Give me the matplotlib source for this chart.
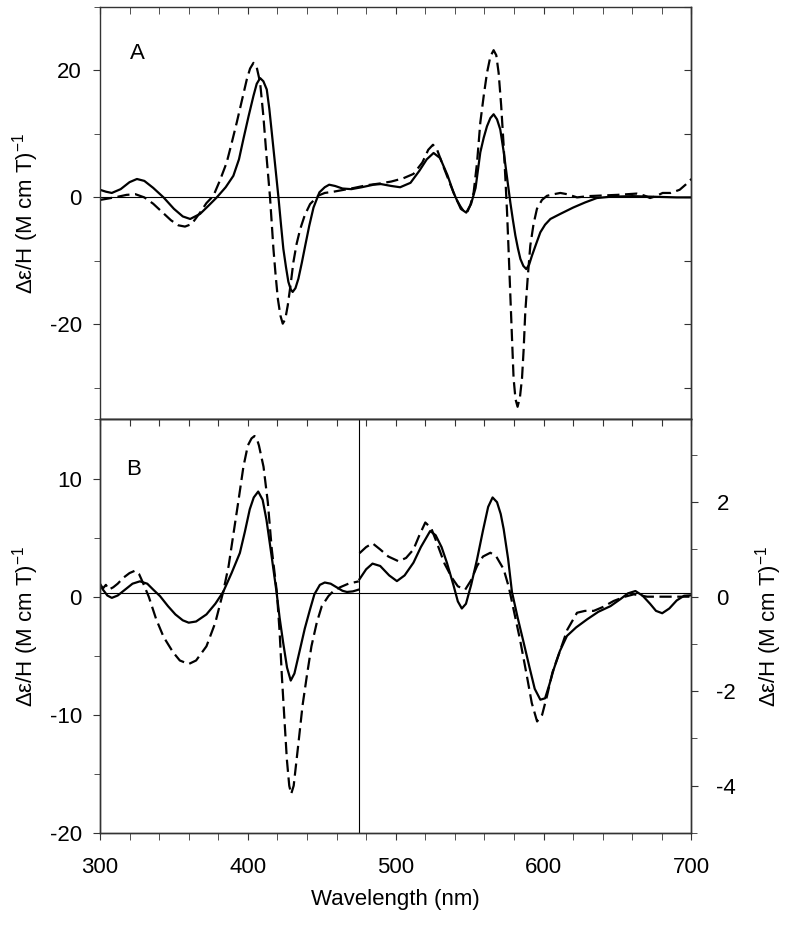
#!/usr/bin/env python3
# -*- coding: utf-8 -*-

import matplotlib
matplotlib.use('Agg')
import matplotlib.pyplot as plt
from matplotlib.ticker import MultipleLocator, NullFormatter

# panel A, solid trace
a_solid_x = [300, 304, 308, 314, 320, 325, 330, 336, 343, 350, 356, 361, 367.7, 373, 379, 385, 390.2,
             394, 397, 400.5, 403.8, 406, 408.3, 410.5, 412.8, 414.5, 416.2, 418.5, 420.7, 422.5, 424,
             425.8, 427.4, 429, 430.3, 432.2, 434.2, 436.5, 438.8, 441.5, 444.4, 448.4, 452, 455, 459,
             464, 470, 477, 485, 490, 497, 503, 510, 516, 521, 525.6, 530, 535, 539, 544, 547.7, 551,
             554, 557.2, 559.5, 561.7, 564, 566.2, 568.5, 570.7, 573, 575.3, 577.5, 579.2, 580.9, 582.6,
             584.3, 586.3, 588.3, 590.2, 592.1, 595, 597.8, 601, 604.6, 611.3, 620, 628, 636, 645, 660,
             675, 690, 700]
a_solid_y = [1.2, 0.9, 0.7, 1.3, 2.4, 2.9, 2.6, 1.5, 0.0, -1.8, -3.0, -3.4, -2.6, -1.4, 0.0, 1.6, 3.4,
             6.0, 9.2, 12.8, 16.0, 17.9, 18.8, 18.3, 17.0, 14.0, 10.2, 5.0, 0.0, -4.5, -8.1, -11.0,
             -13.3, -14.5, -14.9, -14.3, -12.8, -10.3, -7.6, -4.5, -1.6, 0.8, 1.6, 2.0, 1.8, 1.4, 1.3,
             1.6, 2.0, 2.1, 1.8, 1.6, 2.3, 4.2, 6.0, 7.0, 6.2, 3.5, 0.8, -1.8, -2.4, -1.0, 1.5, 7.1,
             9.4, 11.2, 12.5, 13.1, 12.3, 10.7, 7.2, 3.1, -0.8, -3.5, -6.0, -8.0, -9.7, -10.8, -11.3,
             -10.6, -9.2, -7.3, -5.5, -4.3, -3.4, -2.6, -1.6, -0.8, -0.1, 0.1, 0.2, 0.1, 0.0, 0.0]

# panel A, dashed trace
a_dash_x = [300, 305, 312, 318, 324, 330, 336, 342, 348, 353, 357.5, 362, 367.7, 372, 376.7, 381, 385.7,
            389, 392.5, 396, 399.3, 401.5, 403.8, 406, 408.3, 410.5, 412.8, 415, 417.3, 418.8, 420.3,
            422, 423.6, 425.3, 427, 429, 430.8, 433, 435.4, 438.5, 442.1, 447.8, 452, 458, 465, 472,
            480, 489.5, 497, 505, 512, 518, 522, 525.2, 528, 532, 537, 541, 543.7, 546, 548.2, 550.5,
            552.7, 555, 557.2, 559.5, 561.7, 564, 566.2, 568, 569.6, 571.3, 573, 574.2, 575.3, 576.4,
            577.5, 578.6, 579.7, 581, 582.4, 584, 585.4, 586.5, 587.6, 589.3, 591, 593.2, 595.5, 598.9,
            602.3, 606.8, 611.3, 616, 622.6, 630, 640, 650, 663, 668, 672, 676, 680.5, 686, 692, 696,
            700]
a_dash_y = [-0.4, -0.2, 0.1, 0.4, 0.5, 0.0, -1.0, -2.3, -3.6, -4.4, -4.6, -4.2, -2.4, -0.9, 0.25, 2.6,
            5.5, 8.5, 11.8, 15.3, 18.6, 20.3, 21.2, 20.5, 18.1, 12.8, 6.0, 0.0, -8.1, -12.3, -16.0,
            -18.6, -19.9, -19.2, -17.0, -13.6, -10.2, -7.3, -5.0, -2.8, -1.05, 0.3, 0.7, 0.9, 1.2, 1.5,
            1.9, 2.2, 2.5, 3.0, 3.7, 5.5, 7.5, 8.3, 7.5, 5.0, 2.0, -0.3, -1.4, -2.2, -2.4, -1.2, 0.8,
            5.5, 11.8, 16.0, 19.6, 22.2, 23.2, 22.4, 19.6, 14.5, 8.1, 2.8, -2.4, -8.8, -15.4, -22.0,
            -28.5, -31.8, -33.0, -31.5, -28.5, -24.0, -18.1, -12.5, -7.6, -4.2, -1.8, -0.4, 0.25, 0.5,
            0.7, 0.5, 0.0, 0.2, 0.3, 0.4, 0.6, 0.3, -0.1, 0.2, 0.7, 0.7, 1.2, 2.0, 2.9]

# panel B below 475 nm (left axis)
b_solid_x = [300, 302, 305, 308, 312, 317, 322, 327, 332, 336, 340.6, 346, 351, 356, 360, 365, 372, 378,
             383.3, 389, 394.6, 398, 401.3, 404, 407, 410, 412.6, 416, 419.4, 421.5, 423.9, 426.5, 429,
             431.5, 435.2, 438.5, 442, 445, 448.7, 452, 456, 460, 464, 467, 471, 475]
b_solid_y = [1.0, 0.6, 0.1, -0.1, 0.1, 0.6, 1.1, 1.3, 1.1, 0.6, 0.05, -0.8, -1.5, -2.0, -2.2, -2.1, -1.5,
             -0.6, 0.4, 2.0, 3.7, 5.5, 7.4, 8.4, 8.9, 8.2, 6.5, 3.5, 0.4, -1.8, -3.9, -6.0, -7.1, -6.5,
             -4.5, -2.7, -1.1, 0.2, 1.0, 1.2, 1.1, 0.8, 0.5, 0.4, 0.45, 0.6]
b_dash_x = [300, 302, 304, 306, 309, 312, 315.8, 320, 323.7, 326.5, 329, 333, 338, 343, 349.4, 354, 360,
            365, 372, 378, 383.3, 387, 390, 393.5, 397, 400, 402.5, 404.5, 406, 407.5, 410.6, 413.5,
            416.2, 419.6, 421.5, 423, 424.8, 426.4, 428, 429.3, 431, 434.3, 437, 439.9, 443, 446.6, 450,
            454.5, 458, 462.4, 468, 475]
b_dash_y = [1.1, 0.7, 1.0, 0.6, 0.8, 1.1, 1.6, 2.0, 2.2, 1.9, 1.2, 0.0, -1.9, -3.4, -4.7, -5.4, -5.7,
            -5.4, -4.2, -2.2, 0.4, 2.6, 5.1, 8.0, 11.0, 12.8, 13.4, 13.6, 13.4, 12.8, 11.0, 8.0, 4.0,
            0.4, -3.0, -6.7, -10.5, -13.8, -16.0, -16.7, -16.0, -12.3, -9.2, -6.7, -4.2, -2.2, -0.8,
            0.05, 0.5, 0.8, 1.1, 1.3]

# panel B above 475 nm (right axis)
r_solid_x = [475.5, 480, 484.3, 489.5, 495.6, 500.8, 506, 512, 517, 523.3, 527, 531, 534.6, 539, 542,
             544.7, 547.5, 551, 555, 559, 562.5, 565.5, 568.5, 571, 573, 576, 578.6, 582.5, 586.5,
             590.5, 594, 597.8, 601, 604, 606.8, 611, 615.8, 622, 629.4, 637, 645.2, 652, 657, 662.1,
             667, 672, 676, 680.2, 685, 690, 695, 700]
r_solid_y = [0.37, 0.58, 0.70, 0.65, 0.45, 0.33, 0.45, 0.72, 1.05, 1.39, 1.3, 1.05, 0.72, 0.25, -0.1,
             -0.25, -0.15, 0.25, 0.79, 1.4, 1.9, 2.1, 2.0, 1.75, 1.43, 0.8, 0.1, -0.45, -0.97, -1.5,
             -1.95, -2.18, -2.15, -1.85, -1.54, -1.15, -0.83, -0.65, -0.48, -0.32, -0.2, -0.05, 0.07,
             0.12, 0.02, -0.15, -0.3, -0.35, -0.25, -0.08, 0.02, 0.03]
r_dash_x = [475.5, 480, 484.3, 489.5, 495, 501.9, 507, 512, 516, 520, 524, 527.8, 533, 538, 542, 547,
            551, 555, 559, 564, 568, 573, 576.5, 579.7, 584, 588.7, 592, 595.6, 599, 602.3, 606, 611.4,
            616, 622.6, 628, 633.9, 640, 647.4, 655, 661, 670, 680, 690, 700]
r_dash_y = [0.92, 1.05, 1.13, 1.0, 0.85, 0.75, 0.82, 1.0, 1.3, 1.57, 1.45, 1.14, 0.7, 0.4, 0.22, 0.15,
            0.35, 0.65, 0.85, 0.93, 0.85, 0.58, 0.2, -0.27, -0.9, -1.68, -2.25, -2.64, -2.5, -2.1, -1.6,
            -1.12, -0.7, -0.34, -0.3, -0.3, -0.22, -0.09, 0.0, 0.05, 0.0, 0.0, 0.0, 0.0]

ylab = 'Δε/H (M cm T)$^{-1}$'
fs = 16
edge = '#333333'


def set_spines(ax):
    for s in ax.spines.values():
        s.set_color(edge)
        s.set_linewidth(1.0)


def plot():
    plt.rcParams['font.family'] = ['Liberation Sans', 'DejaVu Sans']
    plt.rcParams['mathtext.fontset'] = 'custom'
    plt.rcParams['mathtext.rm'] = 'Liberation Sans'
    plt.rcParams['mathtext.it'] = 'Liberation Sans:italic'
    plt.rcParams['axes.unicode_minus'] = False

    fig = plt.figure(figsize=(7.89, 9.25), dpi=100)
    axA = fig.add_axes([0.1267, 0.5465, 0.7497, 0.4459])
    axB = fig.add_axes([0.1267, 0.0995, 0.7497, 0.4470])

    lw = 1.6
    dash = (5.5, 2.5)

    # panel A
    axA.axhline(0, color='black', linewidth=0.8)
    axA.plot(a_solid_x, a_solid_y, color='black', linewidth=lw)
    axA.plot(a_dash_x, a_dash_y, color='black', linewidth=lw, linestyle='--', dashes=dash)
    axA.set_xlim(300, 700)
    axA.set_ylim(-35, 30)
    axA.xaxis.set_major_locator(MultipleLocator(100))
    axA.xaxis.set_minor_locator(MultipleLocator(20))
    axA.yaxis.set_major_locator(MultipleLocator(20))
    axA.yaxis.set_minor_locator(MultipleLocator(10))
    axA.tick_params(axis='x', which='both', direction='in', top=True, bottom=False,
                    labelbottom=False, length=5, color=edge)
    axA.tick_params(axis='y', which='both', direction='out', left=True, right=False,
                    labelsize=fs, color=edge, pad=8)
    axA.tick_params(axis='y', which='major', length=5)
    axA.tick_params(axis='y', which='minor', length=4)
    rA = axA.secondary_yaxis('right')
    rA.yaxis.set_major_locator(MultipleLocator(10))
    rA.yaxis.set_major_formatter(NullFormatter())
    rA.tick_params(axis='y', direction='in', length=5, color=edge)
    set_spines(axA)
    set_spines(rA)
    axA.set_ylabel(ylab, fontsize=fs, labelpad=6)
    axA.text(0.063, 0.888, 'A', transform=axA.transAxes, fontsize=fs, ha='center', va='center')

    # panel B, left part
    axB.axhline(0.35, color='black', linewidth=0.8)
    axB.axvline(475, color='black', linewidth=0.8)
    axB.plot(b_solid_x, b_solid_y, color='black', linewidth=lw)
    axB.plot(b_dash_x, b_dash_y, color='black', linewidth=lw, linestyle='--', dashes=dash)
    axB.set_xlim(300, 700)
    axB.set_ylim(-20, 15)
    axB.xaxis.set_major_locator(MultipleLocator(100))
    axB.xaxis.set_minor_locator(MultipleLocator(20))
    axB.yaxis.set_major_locator(MultipleLocator(10))
    axB.yaxis.set_minor_locator(MultipleLocator(5))
    axB.tick_params(axis='x', which='both', direction='out', length=5, labelsize=fs, color=edge, pad=12)
    axB.tick_params(axis='y', which='both', direction='out', right=False, labelsize=fs, color=edge, pad=8)
    axB.tick_params(axis='y', which='major', length=5)
    axB.tick_params(axis='y', which='minor', length=4)
    tB = axB.secondary_xaxis('top')
    tB.xaxis.set_major_locator(MultipleLocator(20))
    tB.xaxis.set_major_formatter(NullFormatter())
    tB.tick_params(axis='x', direction='in', length=5, color=edge)
    set_spines(axB)
    set_spines(tB)
    axB.set_ylabel(ylab, fontsize=fs, labelpad=6)
    axB.set_xlabel('Wavelength (nm)', fontsize=fs, labelpad=8)
    axB.text(0.056, 0.879, 'B', transform=axB.transAxes, fontsize=fs, ha='center', va='center')

    # panel B, right part on its own scale
    axR = axB.twinx()
    axR.plot(r_solid_x, r_solid_y, color='black', linewidth=lw)
    axR.plot(r_dash_x, r_dash_y, color='black', linewidth=lw, linestyle='--', dashes=dash)
    axR.set_xlim(300, 700)
    axR.set_ylim(-5, 3.75)
    axR.yaxis.set_major_locator(MultipleLocator(2))
    axR.yaxis.set_minor_locator(MultipleLocator(1))
    axR.tick_params(axis='y', which='both', direction='out', color=edge, labelsize=fs, pad=13)
    axR.tick_params(axis='y', which='major', length=5)
    axR.tick_params(axis='y', which='minor', length=4)
    axR.set_ylabel(ylab, fontsize=fs, labelpad=12)
    set_spines(axR)

    fig.savefig('out.png', dpi=100)


if __name__ == '__main__':
    plot()
